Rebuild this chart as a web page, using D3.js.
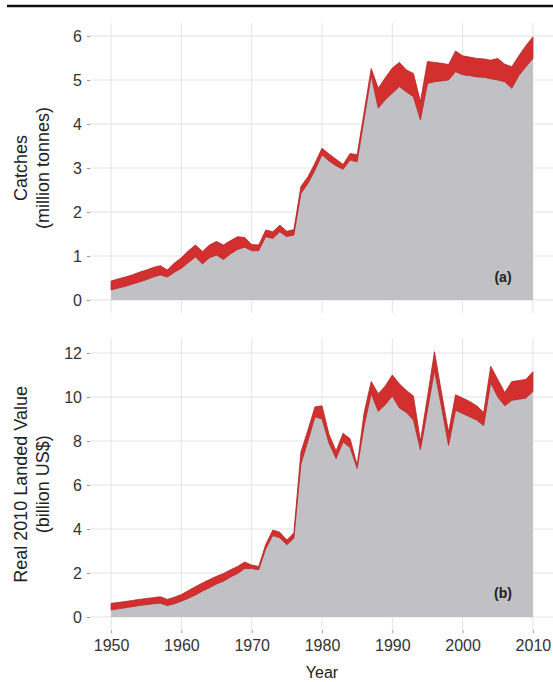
<!DOCTYPE html>
<html>
<head>
<meta charset="utf-8">
<script src="https://cdn.jsdelivr.net/npm/d3@7"></script>
<style>
  html, body { margin: 0; padding: 0; background: #fff; }
  svg { display: block; font-family: "Liberation Sans", Arial, sans-serif; }
</style>
</head>
<body>
<svg id="chart" width="553" height="682"></svg>
<script>
// Years 1950–2010
const years = d3.range(1950, 2011);

// Catches (million tonnes): lower and upper bound
const catchLow = [
  0.23, 0.27, 0.31, 0.36, 0.41, 0.46, 0.52, 0.57, 0.52, 0.63,
  0.72, 0.85, 0.98, 0.82, 0.96, 1.02, 0.92, 1.05, 1.15, 1.20,
  1.12, 1.12, 1.44, 1.40, 1.55, 1.44, 1.48, 2.42, 2.65, 2.95,
  3.30, 3.16, 3.05, 2.97, 3.18, 3.14, 4.12, 5.10, 4.36, 4.55,
  4.70, 4.85, 4.73, 4.62, 4.09, 4.92, 4.96, 4.98, 5.00, 5.19,
  5.12, 5.10, 5.07, 5.06, 5.03, 5.00, 4.96, 4.81, 5.10, 5.30,
  5.49
];
const catchHigh = [
  0.43, 0.48, 0.52, 0.57, 0.63, 0.68, 0.74, 0.78, 0.68, 0.84,
  0.96, 1.12, 1.25, 1.10, 1.25, 1.33, 1.25, 1.35, 1.44, 1.42,
  1.26, 1.25, 1.59, 1.55, 1.70, 1.56, 1.60, 2.58, 2.80, 3.11,
  3.45, 3.32, 3.20, 3.08, 3.33, 3.30, 4.28, 5.26, 4.81, 5.05,
  5.27, 5.40, 5.23, 5.15, 4.51, 5.42, 5.40, 5.38, 5.35, 5.66,
  5.55, 5.52, 5.49, 5.48, 5.45, 5.49, 5.36, 5.30, 5.55, 5.78,
  5.98
];

// Real 2010 landed value (billion US$): lower and upper bound
const valueLow = [
  0.32, 0.37, 0.42, 0.47, 0.52, 0.56, 0.60, 0.63, 0.52, 0.60,
  0.72, 0.85, 1.00, 1.18, 1.33, 1.50, 1.63, 1.82, 1.98, 2.20,
  2.20, 2.15, 3.10, 3.70, 3.60, 3.28, 3.58, 6.95, 8.00, 9.10,
  9.00, 7.90, 7.20, 7.95, 7.70, 6.75, 8.70, 10.15, 9.35, 9.65,
  10.05, 9.50, 9.30, 8.95, 7.60, 9.40, 11.20, 9.55, 7.80, 9.40,
  9.25, 9.10, 8.95, 8.70, 10.65, 10.00, 9.60, 9.85, 9.90, 9.95,
  10.25
];
const valueHigh = [
  0.62, 0.66, 0.70, 0.75, 0.80, 0.84, 0.88, 0.92, 0.80, 0.90,
  1.02, 1.20, 1.38, 1.55, 1.70, 1.85, 1.98, 2.15, 2.30, 2.50,
  2.36, 2.30, 3.30, 3.95, 3.85, 3.50, 3.83, 7.50, 8.50, 9.55,
  9.60, 8.30, 7.55, 8.35, 8.10, 6.90, 9.30, 10.70, 10.15, 10.50,
  11.00, 10.60, 10.30, 10.05, 8.00, 10.00, 12.06, 10.20, 8.40, 10.10,
  9.95, 9.80, 9.60, 9.30, 11.40, 10.80, 10.20, 10.70, 10.75, 10.80,
  11.15
];

// Axis ticks
const xTicks = [1950, 1960, 1970, 1980, 1990, 2000, 2010];
const catchTicks = [0, 1, 2, 3, 4, 5, 6];
const valueTicks = [0, 2, 4, 6, 8, 10, 12];

const svg = d3.select("#chart");

const GREY = "#c0c0c5";
const RED = "#d32f2f";
const RED_EDGE = "#b32424";
const GRID = "#e3e3e3";
const TEXT = "#333";

// Horizontal scale shared by both panels (with ggplot-like 5% padding)
const x = d3.scaleLinear().domain([1947, 2013]).range([90, 554]);

// Top border rule
svg.append("line")
  .attr("x1", 7).attr("x2", 553).attr("y1", 6).attr("y2", 6)
  .attr("stroke", "#111").attr("stroke-width", 2.5);

function panel(opts) {
  const y = d3.scaleLinear().domain(opts.yDomain).range(opts.yRange);
  const g = svg.append("g");
  const [top, bottom] = [opts.yRange[1], opts.yRange[0]];

  // grid
  g.append("g").selectAll("line").data(opts.yTicks).join("line")
    .attr("x1", x.range()[0]).attr("x2", x.range()[1])
    .attr("y1", d => y(d)).attr("y2", d => y(d))
    .attr("stroke", GRID).attr("stroke-width", 1);
  g.append("g").selectAll("line").data(xTicks).join("line")
    .attr("x1", d => x(d)).attr("x2", d => x(d))
    .attr("y1", top).attr("y2", bottom)
    .attr("stroke", GRID).attr("stroke-width", 1);

  const rows = years.map((yr, i) => ({ yr, lo: opts.low[i], hi: opts.high[i] }));

  // lower bound area
  g.append("path").datum(rows)
    .attr("fill", GREY)
    .attr("d", d3.area().x(d => x(d.yr)).y0(y(0)).y1(d => y(d.lo)));

  // uncertainty band between lower and upper bound
  g.append("path").datum(rows)
    .attr("fill", RED)
    .attr("stroke", RED_EDGE).attr("stroke-width", 0.8).attr("stroke-linejoin", "round")
    .attr("d", d3.area().x(d => x(d.yr)).y0(d => y(d.lo)).y1(d => y(d.hi)));

  // y axis
  const ya = g.append("g").attr("transform", `translate(${x.range()[0]},0)`)
    .call(d3.axisLeft(y).tickValues(opts.yTicks).tickFormat(d3.format("d"))
      .tickSize(3).tickPadding(5));
  ya.select(".domain").remove();
  ya.selectAll(".tick line").attr("stroke", "#999");
  ya.selectAll(".tick text").attr("font-size", 16).attr("fill", TEXT)
    .attr("font-family", "Liberation Sans, Arial, sans-serif");

  // y title (two lines)
  const cy = (top + bottom) / 2;
  const t = g.append("text")
    .attr("transform", `translate(0,${cy}) rotate(-90)`)
    .attr("text-anchor", "middle").attr("font-size", 18).attr("fill", "#222");
  t.append("tspan").attr("x", 0).attr("y", 27).text(opts.title[0]);
  t.append("tspan").attr("x", 0).attr("y", 49).text(opts.title[1]);

  // panel tag
  g.append("text").attr("x", 503).attr("y", opts.tagY)
    .attr("text-anchor", "middle").attr("font-size", 14).attr("font-weight", "bold")
    .attr("fill", "#222").text(opts.tag);

  return { y, g, bottom };
}

panel({
  yDomain: [-0.3, 6.3], yRange: [313.2, 22.8],
  low: catchLow, high: catchHigh, yTicks: catchTicks,
  title: ["Catches", "(million tonnes)"], tag: "(a)", tagY: 282
});

const b = panel({
  yDomain: [-0.6, 12.66], yRange: [630.2, 338.5],
  low: valueLow, high: valueHigh, yTicks: valueTicks,
  title: ["Real 2010 Landed Value", "(billion US$)"], tag: "(b)", tagY: 598
});

// x axis on bottom panel
const xa = svg.append("g").attr("transform", `translate(0,${b.bottom})`)
  .call(d3.axisBottom(x).tickValues(xTicks).tickFormat(d3.format("d")).tickSize(3).tickPadding(6));
xa.select(".domain").remove();
xa.selectAll(".tick line").attr("stroke", "#999");
xa.selectAll(".tick text").attr("font-size", 16).attr("fill", TEXT)
  .attr("font-family", "Liberation Sans, Arial, sans-serif");

svg.append("text").attr("x", 322).attr("y", 678)
  .attr("text-anchor", "middle").attr("font-size", 16).attr("fill", "#222").text("Year");
</script>
</body>
</html>
